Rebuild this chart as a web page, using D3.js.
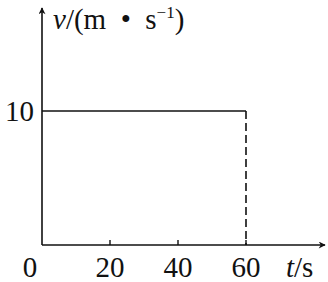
<!DOCTYPE html>
<html>
<head>
<meta charset="utf-8">
<script src="https://cdn.jsdelivr.net/npm/d3@7"></script>
<style>
  body { margin: 0; background: #fff; }
  text { font-family: "Liberation Serif", "DejaVu Serif", serif; fill: #111; }
</style>
</head>
<body>
<svg id="chart" width="328" height="282"></svg>
<script>
// data
var xTicks = [20, 40, 60];
var yTicks = [10];
var series = [{t: 0, v: 10}, {t: 60, v: 10}];
var endTime = 60;

var svg = d3.select("#chart");

// x(0)=42, x(60)=246 ; y(0)=245, y(10)=111
var x = d3.scaleLinear().domain([0, 60]).range([42, 246]);
var y = d3.scaleLinear().domain([0, 10]).range([245, 111]);

var ink = "#111";

// axes with arrows
svg.append("defs").append("marker")
    .attr("id", "arrow")
    .attr("viewBox", "0 0 10 10")
    .attr("refX", 9).attr("refY", 5)
    .attr("markerWidth", 8).attr("markerHeight", 7)
    .attr("markerUnits", "userSpaceOnUse")
    .attr("orient", "auto")
    .append("path")
    .attr("d", "M0,0 L10,5 L0,10 L3,5 Z")
    .attr("fill", ink);

svg.append("line")
    .attr("x1", x(0)).attr("y1", y(0))
    .attr("x2", 325).attr("y2", y(0))
    .attr("stroke", ink).attr("stroke-width", 1.6)
    .attr("marker-end", "url(#arrow)");

svg.append("line")
    .attr("x1", x(0)).attr("y1", y(0))
    .attr("x2", x(0)).attr("y2", 8)
    .attr("stroke", ink).attr("stroke-width", 1.6)
    .attr("marker-end", "url(#arrow)");

// tick marks
svg.selectAll(".xtick").data(xTicks).enter().append("line")
    .attr("x1", function(d) { return x(d); })
    .attr("x2", function(d) { return x(d); })
    .attr("y1", y(0)).attr("y2", y(0) - 5)
    .attr("stroke", ink).attr("stroke-width", 1.4);

// tick labels
svg.selectAll(".xlab").data([0].concat(xTicks)).enter().append("text")
    .attr("x", function(d) { return d === 0 ? 30 : x(d); })
    .attr("y", 277)
    .attr("text-anchor", "middle")
    .style("font-size", "29px")
    .text(function(d) { return d; });

svg.selectAll(".ylab").data(yTicks).enter().append("text")
    .attr("x", 34)
    .attr("y", function(d) { return y(d) + 10; })
    .attr("text-anchor", "end")
    .style("font-size", "29px")
    .text(function(d) { return d; });

// data line
var line = d3.line()
    .x(function(d) { return x(d.t); })
    .y(function(d) { return y(d.v); });

svg.append("path")
    .datum(series)
    .attr("d", line)
    .attr("fill", "none")
    .attr("stroke", ink)
    .attr("stroke-width", 1.6);

// dashed drop line
svg.append("line")
    .attr("x1", x(endTime)).attr("x2", x(endTime))
    .attr("y1", y(10)).attr("y2", y(0))
    .attr("stroke", ink).attr("stroke-width", 1.6)
    .attr("stroke-dasharray", "8,4");

// axis titles
var yt = svg.append("text")
    .attr("x", 53).attr("y", 29)
    .style("font-size", "29px");
yt.append("tspan").style("font-style", "italic").text("v");
yt.append("tspan").text("/(m\u2002\u2022\u2002s");
yt.append("tspan").attr("dy", -11).style("font-size", "17px").text("\u22121");
yt.append("tspan").attr("dy", 11).text(")");

var xt = svg.append("text")
    .attr("x", 286).attr("y", 277)
    .style("font-size", "29px");
xt.append("tspan").style("font-style", "italic").text("t");
xt.append("tspan").text("/s");
</script>
</body>
</html>
